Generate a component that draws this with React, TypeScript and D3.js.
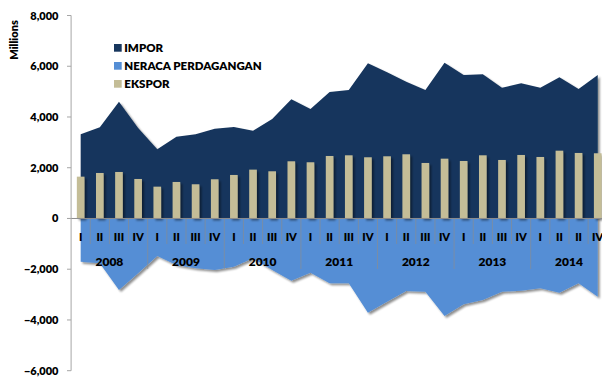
import React from "react";
import * as d3 from "d3";

const years = ["2008", "2009", "2010", "2011", "2012", "2013", "2014"];
const quarterLabels = [
  "I", "II", "III", "IV", "I", "II", "III", "IV", "I", "II", "III", "IV",
  "I", "II", "III", "IV", "I", "II", "III", "IV", "I", "II", "III", "IV",
  "I", "II", "II", "IV",
];
const impor = [
  3319, 3594, 4604, 3567, 2727, 3225, 3318, 3540, 3607, 3461, 3922, 4698,
  4316, 4986, 5065, 6117, 5762, 5393, 5065, 6142, 5656, 5682, 5157, 5327,
  5157, 5564, 5104, 5656,
];
const ekspor = [
  1648, 1793, 1833, 1557, 1254, 1439, 1348, 1545, 1715, 1925, 1860, 2254,
  2215, 2463, 2490, 2412, 2451, 2530, 2188, 2357, 2266, 2490, 2306, 2503,
  2424, 2672, 2582, 2570,
];
const neraca = [
  -1703, -1767, -2818, -2161, -1478, -1833, -1963, -2030, -1900, -1569, -2030, -2451,
  -2136, -2554, -2554, -3713, -3279, -2858, -2884, -3843, -3382, -3212, -2884, -2845,
  -2751, -2924, -2554, -3082,
];
const yTicks = [-6000, -4000, -2000, 0, 2000, 4000, 6000, 8000];
const legendItems = [
  { label: "IMPOR", color: "#17365d" },
  { label: "NERACA PERDAGANGAN", color: "#558ed5" },
  { label: "EKSPOR", color: "#c4bd97" },
];

const W = 602;
const H = 380;
const FONT = "Lato, 'Open Sans', sans-serif";

export default function App() {
  const idx = impor.map((_, i) => i);
  const x = d3.scaleBand<number>().domain(idx).range([71.1, 607.3]).paddingInner(0).paddingOuter(0);
  const y = d3.scaleLinear().domain([-6000, 8000]).range([370.7, 15.5]);
  const cx = (i: number) => (x(i) as number) + x.bandwidth() / 2;
  const bw = x.bandwidth() * 0.4;

  const areaUp = d3.area<number>().x((d, i) => cx(i)).y0(y(0)).y1((d) => y(d));
  const y0 = y(0);
  const axisX = 71.1;

  return (
    <svg width={W} height={H} style={{ position: "absolute", left: 0, top: 0, background: "#fff" }} fontFamily={FONT}>
      <defs>
        <filter id="sh" x="-10%" y="-10%" width="130%" height="130%">
          <feGaussianBlur in="SourceAlpha" stdDeviation="1.2" />
          <feOffset dx="1.5" dy="2" result="ob" />
          <feComponentTransfer>
            <feFuncA type="linear" slope="0.45" />
          </feComponentTransfer>
          <feMerge>
            <feMergeNode />
            <feMergeNode in="SourceGraphic" />
          </feMerge>
        </filter>
      </defs>

      {/* Impor area */}
      <path d={areaUp(impor) || ""} fill="#17365d" filter="url(#sh)" />
      {/* Neraca area */}
      <path d={areaUp(neraca) || ""} fill="#558ed5" filter="url(#sh)" />

      {/* Ekspor bars */}
      <g filter="url(#sh)">
        {ekspor.map((v, i) => (
          <rect key={i} x={cx(i) - bw / 2} y={y(v)} width={bw} height={y0 - y(v)} fill="#c4bd97" />
        ))}
      </g>

      {/* zero line */}
      <line x1={67} x2={W} y1={y0} y2={y0} stroke="#8c8c8c" strokeWidth={1} />

      {/* quarter separators */}
      {idx.slice(1).map((i) => {
        const bx = x(i) as number;
        const isYear = i % 4 === 0;
        return (
          <line key={i} x1={bx} x2={bx} y1={y0} y2={isYear ? 269 : 244} stroke="#8c8c8c" strokeOpacity={0.8} strokeWidth={0.8} />
        );
      })}

      {/* quarter labels */}
      {quarterLabels.map((q, i) => (
        <text key={i} x={cx(i)} y={241} textAnchor="middle" fontSize={11} fontWeight={800} fill="#000">
          {q}
        </text>
      ))}
      {/* year labels */}
      {years.map((yr, k) => (
        <text key={yr} x={(x(k * 4) as number) + x.bandwidth() * 2} y={265.5} textAnchor="middle" fontSize={12} fontWeight={800} fill="#000">
          {yr}
        </text>
      ))}

      {/* y axis */}
      <line x1={axisX} x2={axisX} y1={y(8000)} y2={y(-6000)} stroke="#a6a6a6" strokeWidth={1} />
      {yTicks.map((t) => (
        <g key={t}>
          <line x1={67} x2={axisX} y1={y(t)} y2={y(t)} stroke="#a6a6a6" strokeWidth={1} />
          <text x={58.5} y={y(t) + 4} textAnchor="end" fontSize={11} fontWeight={800} fill="#000">
            {d3.format(",")(t)}
          </text>
        </g>
      ))}
      <text transform="translate(17.5,40) rotate(-90)" textAnchor="middle" fontSize={11} fontWeight={800} fill="#000">
        Millions
      </text>

      {/* legend */}
      {legendItems.map((l, k) => (
        <g key={l.label} transform={`translate(114,${44 + k * 18})`}>
          <rect x={0} y={0} width={7.7} height={7.7} fill={l.color} />
          <text x={10.3} y={8} fontSize={11.5} fontWeight={800} fill="#000">
            {l.label}
          </text>
        </g>
      ))}
    </svg>
  );
}
